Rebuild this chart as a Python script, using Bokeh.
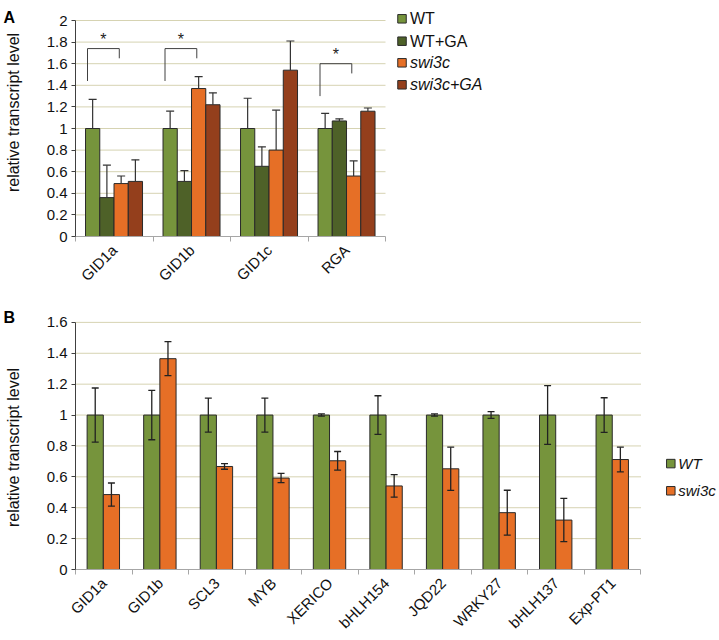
import math
from bokeh.plotting import figure
from bokeh.models import Range1d, FixedTicker, CustomJSTickFormatter, NumeralTickFormatter
from bokeh.layouts import column, row
from bokeh.embed import file_html
from bokeh.resources import INLINE
from bokeh.core.properties import value

# ---------------- data: panel A ----------------
GENES_A = ["GID1a", "GID1b", "GID1c", "RGA"]
SERIES_A = ["WT", "WT+GA", "swi3c", "swi3c+GA"]
WT_A = [1.0, 1.0, 1.0, 1.0]
WTGA_A = [0.36, 0.51, 0.65, 1.07]
SWI_A = [0.49, 1.37, 0.80, 0.56]
SWIGA_A = [0.51, 1.22, 1.54, 1.16]
WT_A_ERR = [0.27, 0.16, 0.28, 0.14]
WTGA_A_ERR = [0.30, 0.10, 0.18, 0.02]
SWI_A_ERR = [0.07, 0.11, 0.37, 0.14]
SWIGA_A_ERR = [0.20, 0.11, 0.27, 0.03]
YTICKS_A = [0, 0.2, 0.4, 0.6, 0.8, 1.0, 1.2, 1.4, 1.6, 1.8, 2.0]
# significance brackets (gene index, left leg bottom, right leg bottom, bracket top)
BRACKET_GENE = [0, 1, 3]
BRACKET_LEFT_LOW = [1.44, 1.44, 1.30]
BRACKET_RIGHT_LOW = [1.65, 1.65, 1.51]
BRACKET_TOP = [1.74, 1.74, 1.60]

# ---------------- data: panel B ----------------
GENES_B = ["GID1a", "GID1b", "SCL3", "MYB", "XERICO", "bHLH154", "JQD22", "WRKY27", "bHLH137", "Exp-PT1"]
SERIES_B = ["WT", "swi3c"]
WT_B = [1.0, 1.0, 1.0, 1.0, 1.0, 1.0, 1.0, 1.0, 1.0, 1.0]
WT_B_ERR = [0.175, 0.16, 0.11, 0.11, 0.007, 0.125, 0.007, 0.022, 0.19, 0.112]
SWI_B = [0.485, 1.365, 0.667, 0.592, 0.704, 0.541, 0.652, 0.368, 0.32, 0.712]
SWI_B_ERR = [0.075, 0.11, 0.018, 0.03, 0.06, 0.073, 0.14, 0.145, 0.14, 0.08]
YTICKS_B = [0, 0.2, 0.4, 0.6, 0.8, 1.0, 1.2, 1.4, 1.6]

YLABEL = "relative transcript level"
PANEL_LETTERS = ["A", "B"]

# ---------------- styles ----------------
C_WT = "#76943C"
C_WTGA = "#4E6128"
C_SWI = "#E66F26"
C_SWIGA = "#943F1C"
OUTLINE = "#2a2a2a"
GRID = "#D6D3B2"
FONT = "Liberation Sans"
TOTAL_W = 719
TOTAL_H = 640
STRIP_W = 40
FIG_W = TOTAL_W - STRIP_W


def style_axes(p, genes, ymax_bound, yticks):
    yax = p.yaxis[0]
    yax.ticker = FixedTicker(ticks=yticks)
    yax.formatter = NumeralTickFormatter(format="0.[0]")
    yax.bounds = (0, ymax_bound)
    yax.axis_line_color = "#404040"
    yax.major_tick_line_color = "#404040"
    yax.major_tick_out = 4
    yax.major_tick_in = 0
    yax.minor_tick_line_color = None
    yax.major_label_text_font = FONT
    yax.major_label_text_font_size = "15px"
    yax.major_label_text_color = "#111111"
    yax.major_label_standoff = 4

    n = len(genes)
    xax = p.xaxis[0]
    xax.ticker = FixedTicker(ticks=[i + 0.5 for i in range(n)], minor_ticks=list(range(n + 1)))
    xax.formatter = CustomJSTickFormatter(
        args=dict(labels=genes),
        code="const i = Math.floor(tick); return (i >= 0 && i < labels.length) ? labels[i] : '';")
    xax.bounds = (0, n)
    xax.axis_line_color = "#A6A6A6"
    xax.major_tick_line_color = None
    xax.major_tick_out = 0
    xax.major_tick_in = 0
    xax.minor_tick_line_color = "#A6A6A6"
    xax.minor_tick_out = 5
    xax.minor_tick_in = 0
    xax.major_label_orientation = math.pi / 4
    xax.major_label_text_font = FONT
    xax.major_label_text_font_size = "15px"
    xax.major_label_text_color = "#111111"
    xax.major_label_standoff = 6

    p.xgrid.visible = False
    p.ygrid.visible = False
    p.outline_line_color = None
    gy = [t for t in yticks if t > 0]
    p.segment(x0=[0] * len(gy), x1=[n] * len(gy), y0=gy, y1=gy, line_color=GRID, line_width=1)


# ================= Panel A =================
A_H = 300
A_X0 = 75        # page x of category 0 boundary
A_Y0 = 236       # page y of value 0
A_PX_X = 77.5    # pixels per category
A_PX_Y = 108.0   # pixels per unit
A_LEFT = A_X0 - STRIP_W
A_FRAME_W = FIG_W - A_LEFT
A_FRAME_H = A_Y0

pA = figure(width=FIG_W, height=A_H, output_backend="svg", toolbar_location=None,
            x_range=Range1d(0, A_FRAME_W / A_PX_X), y_range=Range1d(0, A_FRAME_H / A_PX_Y),
            min_border_left=A_LEFT, min_border_right=0, min_border_top=0,
            min_border_bottom=A_H - A_FRAME_H)
style_axes(pA, GENES_A, 2.0, YTICKS_A)

bw_a = 14.25 / A_PX_X
series_a = [(WT_A, WT_A_ERR, C_WT), (WTGA_A, WTGA_A_ERR, C_WTGA),
            (SWI_A, SWI_A_ERR, C_SWI), (SWIGA_A, SWIGA_A_ERR, C_SWIGA)]
cap_a = 4.0 / A_PX_X
for k, (vals, errs, col) in enumerate(series_a):
    xs = [i + 0.497 + (k - 1.5) * bw_a for i in range(len(GENES_A))]
    pA.vbar(x=xs, top=vals, width=bw_a, bottom=0, fill_color=col, line_color=OUTLINE, line_width=1)
    tops = [v + e for v, e in zip(vals, errs)]
    pA.segment(x0=xs, x1=xs, y0=vals, y1=tops, line_color="#333333", line_width=1.2)
    pA.segment(x0=[x - cap_a for x in xs], x1=[x + cap_a for x in xs], y0=tops, y1=tops,
               line_color="#333333", line_width=1.2)

bxs, bys, sx, sy = [], [], [], []
for g, lo_l, lo_r, top in zip(BRACKET_GENE, BRACKET_LEFT_LOW, BRACKET_RIGHT_LOW, BRACKET_TOP):
    xl = g + 0.155
    xr = g + 0.565
    bxs.append([xl, xl, xr, xr])
    bys.append([lo_l, top, top, lo_r])
    sx.append((xl + xr) / 2)
    sy.append(top + 1.0 / A_PX_Y)
pA.multi_line(xs=bxs, ys=bys, line_color="#404040", line_width=1)
pA.text(x=sx, y=sy, text=["*"] * len(sx), text_align="center", text_baseline="bottom",
        text_font=value(FONT), text_font_size="16px", text_color="#222222")

# legend A (manual: mixed upright / italic entries)
leg_rows_a = [18.3, 40.7, 62.3, 84.3]
sq_x_a = (401.5 - A_X0) / A_PX_X
tx_a = (409.5 - A_X0) / A_PX_X
ly_a = [(A_Y0 - r) / A_PX_Y for r in leg_rows_a]
pA.scatter(x=[sq_x_a] * 4, y=ly_a, marker="square", size=8.5,
           fill_color=[C_WT, C_WTGA, C_SWI, C_SWIGA], line_color=OUTLINE, line_width=1)
pA.text(x=[tx_a] * 2, y=ly_a[:2], text=SERIES_A[:2], text_align="left", text_baseline="middle",
        text_font=value(FONT), text_font_size="16px", text_color="#111111")
pA.text(x=[tx_a] * 2, y=ly_a[2:], text=SERIES_A[2:], text_align="left", text_baseline="middle",
        text_font=value(FONT), text_font_size="16px", text_font_style="italic", text_color="#111111")

# ================= Panel B =================
B_TOP = A_H      # page y where panel B figure starts
B_H = TOTAL_H - A_H
B_X0 = 71
B_Y0 = 571
B_PX_X = 56.9
B_PX_Y = 155.6
B_LEFT = B_X0 - STRIP_W
B_FRAME_W = FIG_W - B_LEFT
B_FRAME_H = B_Y0 - B_TOP

pB = figure(width=FIG_W, height=B_H, output_backend="svg", toolbar_location=None,
            x_range=Range1d(0, B_FRAME_W / B_PX_X), y_range=Range1d(0, B_FRAME_H / B_PX_Y),
            min_border_left=B_LEFT, min_border_right=0, min_border_top=0,
            min_border_bottom=B_H - B_FRAME_H)
style_axes(pB, GENES_B, 1.6, YTICKS_B)

bw_b = 16.3 / B_PX_X
cap_b = 3.5 / B_PX_X
for k, (vals, errs, col) in enumerate([(WT_B, WT_B_ERR, C_WT), (SWI_B, SWI_B_ERR, C_SWI)]):
    xs = [i + 0.492 + (k - 0.5) * bw_b for i in range(len(GENES_B))]
    pB.vbar(x=xs, top=vals, width=bw_b, bottom=0, fill_color=col, line_color=OUTLINE, line_width=1)
    lo = [v - e for v, e in zip(vals, errs)]
    hi = [v + e for v, e in zip(vals, errs)]
    pB.segment(x0=xs, x1=xs, y0=lo, y1=hi, line_color="#222222", line_width=1.3)
    for yy in (lo, hi):
        pB.segment(x0=[x - cap_b for x in xs], x1=[x + cap_b for x in xs], y0=yy, y1=yy,
                   line_color="#222222", line_width=1.3)

leg_rows_b = [464.3, 491.7]
sq_x_b = (670 - B_X0) / B_PX_X
tx_b = (677.5 - B_X0) / B_PX_X
ly_b = [(B_Y0 - r) / B_PX_Y for r in leg_rows_b]
pB.scatter(x=[sq_x_b] * 2, y=ly_b, marker="square", size=8.5,
           fill_color=[C_WT, C_SWI], line_color=OUTLINE, line_width=1)
pB.text(x=[tx_b] * 2, y=ly_b, text=SERIES_B, text_align="left", text_baseline="middle",
        text_font=value(FONT), text_font_size="15px", text_font_style="italic", text_color="#111111")

# ================= left strip: panel letters and y-axis titles =================
strip = figure(width=STRIP_W, height=TOTAL_H, output_backend="svg", toolbar_location=None,
               x_range=Range1d(0, STRIP_W), y_range=Range1d(TOTAL_H, 0),
               x_axis_type=None, y_axis_type=None,
               min_border_left=0, min_border_right=0, min_border_top=0, min_border_bottom=0)
strip.xgrid.visible = False
strip.ygrid.visible = False
strip.outline_line_color = None
strip.text(x=[3, 3], y=[17, 317], text=PANEL_LETTERS, text_align="left", text_baseline="alphabetic",
           text_font=value(FONT), text_font_size="16px", text_font_style="bold", text_color="#000000")
strip.text(x=[12.5, 12.5], y=[112, 447], text=[YLABEL, YLABEL], angle=math.pi / 2,
           text_align="center", text_baseline="middle",
           text_font=value(FONT), text_font_size="16px", text_color="#111111")

layout = row(strip, column(pA, pB, spacing=0), spacing=0)
open("out.html", "w").write(file_html(layout, INLINE))
